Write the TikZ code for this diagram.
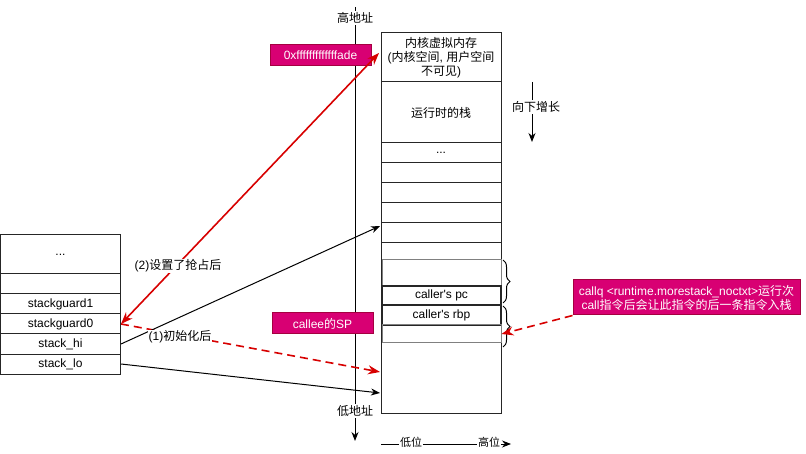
\documentclass[tikz,border=0pt]{standalone}
\usepackage{fontspec}
\setmainfont{Liberation Sans}[Ligatures=TeXOff]
\newfontfamily\cjk{Noto Sans CJK SC}
\usepackage{tikz}
\usetikzlibrary{arrows.meta,calc,positioning,decorations.pathreplacing}
\definecolor{mag}{RGB}{216,0,115}
\definecolor{magline}{RGB}{165,0,64}
\definecolor{arr}{RGB}{215,0,0}
\newcommand{\zh}[1]{{\cjk #1}}

\begin{document}
\begin{tikzpicture}[x=1pt,y=-1pt,>={Stealth[length=9pt,width=7pt]},line width=1pt,
  every node/.style={font=\fontsize{12}{14}\selectfont},
  cell/.style={draw=black!85,minimum width=120,minimum height=20,inner sep=0pt},
  tag/.style={fill=mag,draw=magline,text=white,inner sep=0pt,align=center},
  lbl/.style={fill=white,inner sep=1pt},
  redarr/.style={arr,line width=1.6pt,>={Stealth[length=12pt,width=9pt]}}]
  \useasboundingbox (0,0) rectangle (806,454);
  % address axis
  \coordinate (axtop) at (355,7); \coordinate (axbot) at (355,441);
  \draw[->] (axtop) -- (axbot);
  \node[lbl] (high) at (355,18) {\zh{高地址}};
  \node[lbl] (low) at (355,411) {\zh{低地址}};
  % g struct
  \node[cell,minimum height=39] (gdots) at (60.5,254.5) {...};
  \node[cell] (gempty) at (60.5,284) {};
  \foreach \n/\t/\y in {sgone/stackguard1/304,sgzero/stackguard0/324,hi/stack\_hi/344,lo/stack\_lo/364}
    \node[cell] (\n) at (60.5,\y) {\t};
  % stack
  \node[cell,minimum height=49,align=center] (kernel) at (441,57.5)
    {\zh{内核虚拟内存}\\(\zh{内核空间}, \zh{用户空间}\\\zh{不可见})};
  \node[cell,minimum height=61] (rt) at (441,112.5) {\zh{运行时的栈}};
  \node[cell] (sdots) at (441,153) {...};
  \foreach \y [count=\i] in {173,193,213,233} \node[cell] (row\i) at (441,\y) {};
  \node[cell,minimum height=170] (rest) at (441,328) {};
  \node[cell,draw=gray,minimum width=119,minimum height=26] (gap) at (441.5,273) {};
  \node[cell,line width=1.4pt,minimum width=119,minimum height=19] (pc) at (441.5,295.5) {caller's pc};
  \node[cell,line width=1.4pt,minimum width=119] (rbp) at (441.5,315) {caller's rbp};
  \node[cell,draw=gray,minimum width=119,minimum height=18] (slot) at (441.5,334) {};
  \draw[decorate,decoration={brace,amplitude=7pt}] (503,260) -- (503,303);
  \draw[decorate,decoration={brace,amplitude=7pt}] (503,306) -- (503,347);
  % growth direction
  \coordinate (gtop) at (532,82); \coordinate (gbot) at (532,142);
  \draw[->] (gtop) -- (gbot);
  \node[lbl] (grow) at (536,107) {\zh{向下增长}};
  % bit order
  \coordinate (bl) at (381,444); \coordinate (br) at (511,444);
  \draw[->,line width=0.8pt] (bl) -- (br);
  \node[lbl,font=\fontsize{11}{13}\selectfont] (lowbit) at (411,442) {\zh{低位}};
  \node[lbl,font=\fontsize{11}{13}\selectfont] (highbit) at (489,442) {\zh{高位}};
  % tags
  \node[tag,minimum width=101,minimum height=21] (addr) at (320.5,55.5) {0xfffffffffffffade};
  \node[tag,minimum width=101,minimum height=21] (sp) at (322.5,323.5) {callee\zh{的}SP};
  \node[tag,minimum width=227,minimum height=35] (note) at (686.5,297.5)
    {callq <runtime.morestack\_noctxt>\zh{运行次}\\call\zh{指令后会让此指令的后一条指令入栈}};
  % pointers
  \coordinate (hiaddr) at (379,53);
  \coordinate (spaddr) at (380,372);
  \coordinate (hiend) at (380,226);
  \coordinate (loend) at (380,393);
  \draw[redarr,<->] (sgzero.east) -- (hiaddr);
  \draw[redarr,->,dash pattern=on 8pt off 5pt] (sgzero.east) -- (spaddr);
  \draw[->] (hi.east) -- (hiend);
  \draw[->] (lo.east) -- (loend);
  \draw[redarr,->,dash pattern=on 8pt off 5pt] (note.south west) -- (slot.east);
  \node[lbl] (after2) at (178,266) {(2)\zh{设置了抢占后}};
  \node[lbl] (after1) at (180,337) {(1)\zh{初始化后}};
\end{tikzpicture}
\end{document}
